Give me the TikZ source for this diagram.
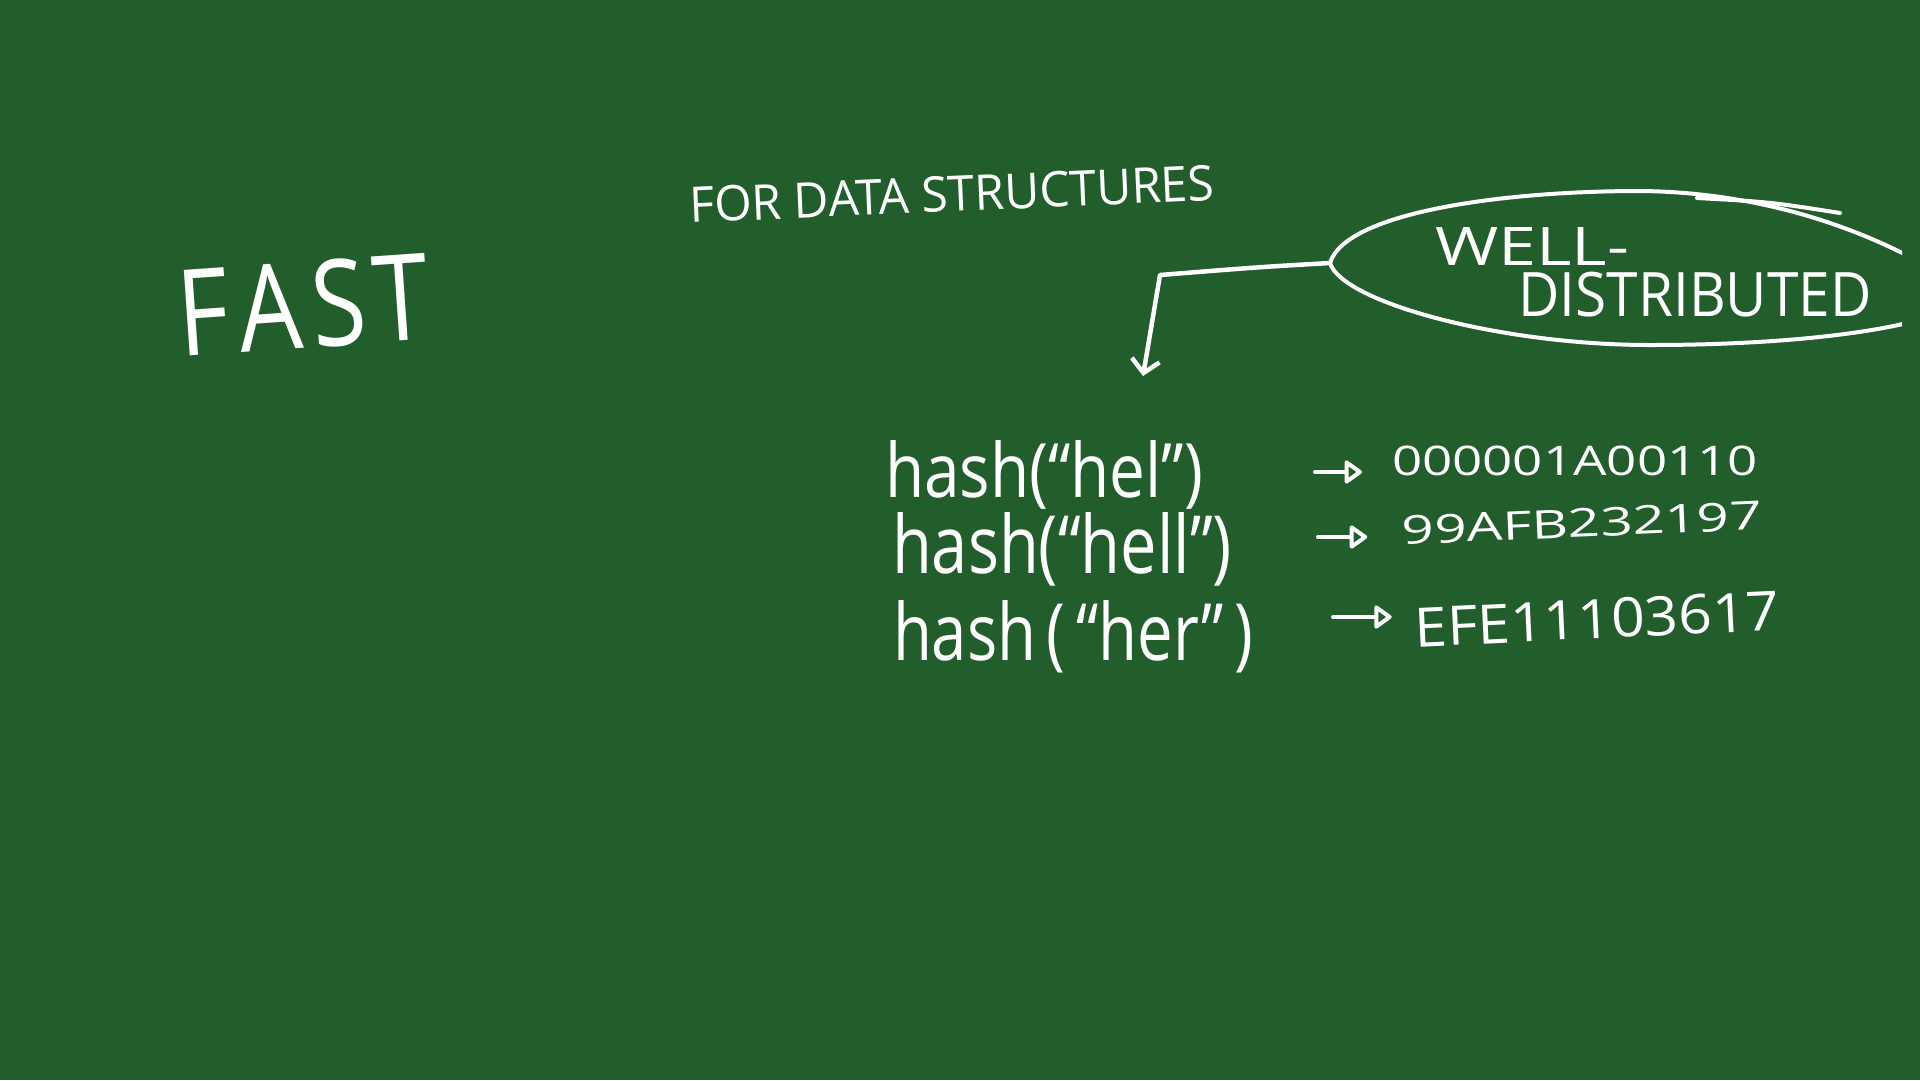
\documentclass[tikz,border=0pt]{standalone}
\usepackage{fontspec}
\setmainfont{Open Sans}
\usepackage{graphicx}
\usetikzlibrary{arrows.meta}
\definecolor{board}{HTML}{215E2B}
\newcommand{\fitbox}[3]{\resizebox*{#1pt}{#2pt}{\fontsize{40}{48}\selectfont #3}}
\newcommand{\fitbase}[3]{\resizebox{#1pt}{#2pt}{\fontsize{40}{48}\selectfont #3}}
\begin{document}
\begin{tikzpicture}[x=1pt,y=-1pt,
  chalktext/.style={text=white, inner sep=0pt, outer sep=0pt},
  chalkline/.style={draw=white, line width=4.5pt, line cap=round, line join=round},
  hasharrow/.style={chalkline, line width=4pt, -{Triangle[open, length=19pt, width=26pt, round]}}]
\fill[board] (0,0) rectangle (1920,1080);
\useasboundingbox (0,0) rectangle (1920,1080);

% titles
\node[chalktext, rotate=4] (fast) at (303,305) {\fitbox{252}{88}{F\kern4pt A\kern4pt S\kern3pt T}};
\node[chalktext, rotate=2.5] (fds) at (952,194) {\fitbox{525}{36}{FOR DATA STRUCTURES}};

% bubble (hand-drawn oval, cut at the right)
\coordinate (wdl) at (1330,263);
\begin{scope}
\clip (0,0) rectangle (1902,1080);
\draw[chalkline, line width=4pt] (wdl) .. controls (1345,213) and (1500,191) .. (1640,191)
   .. controls (1760,192) and (1855,228) .. (1912,258);
\draw[chalkline, line width=4pt] (wdl) .. controls (1342,302) and (1500,345) .. (1650,345)
   .. controls (1780,345) and (1870,333) .. (1915,321);
\end{scope}
\draw[chalkline, line width=4pt] (1697,198) .. controls (1770,202) .. (1840,213);
\node[chalktext] (well) at (1532,246) {\fitbox{194}{38}{WELL-}};
\node[chalktext] (dist) at (1695,295) {\fitbox{353}{45}{DISTRIBUTED}};

% connector
\coordinate (bend) at (1160,275);
\coordinate (tip) at (1143,376);
\draw[chalkline, -{Straight Barb[length=13pt, width=28pt]}] (wdl) .. controls (1260,267) .. (bend) -- (tip);

% hash calls
\node[chalktext, anchor=base west] (h1) at (885,497) {\fitbase{318}{57}{hash(“hel”)}};
\node[chalktext, anchor=base west] (h2) at (892,573) {\fitbase{340}{61}{hash(“hell”)}};
\node[chalktext, anchor=base west] (h3) at (893,660) {\fitbase{360}{60}{hash\,(\,“her”\,)}};

% values
\node[chalktext] (v1) at (1575,461) {\fitbox{366}{30}{000001A00110}};
\node[chalktext, rotate=2.4] (v2) at (1582,523) {\fitbox{360}{29}{99AFB232197}};
\node[chalktext, rotate=2.7] (v3) at (1597,619) {\fitbox{365}{40}{EFE11103617}};

% arrows
\coordinate (a1) at (1315,472);
\coordinate (a2) at (1318,537);
\coordinate (a3) at (1333,617);
\draw[hasharrow, shorten >=30pt] (a1) -- (a1 -| v1.west);
\draw[hasharrow, shorten >=35pt] (a2) -- (a2 -| v2.west);
\draw[hasharrow, shorten >=23pt] (a3) -- (a3 -| v3.west);
\end{tikzpicture}
\end{document}
